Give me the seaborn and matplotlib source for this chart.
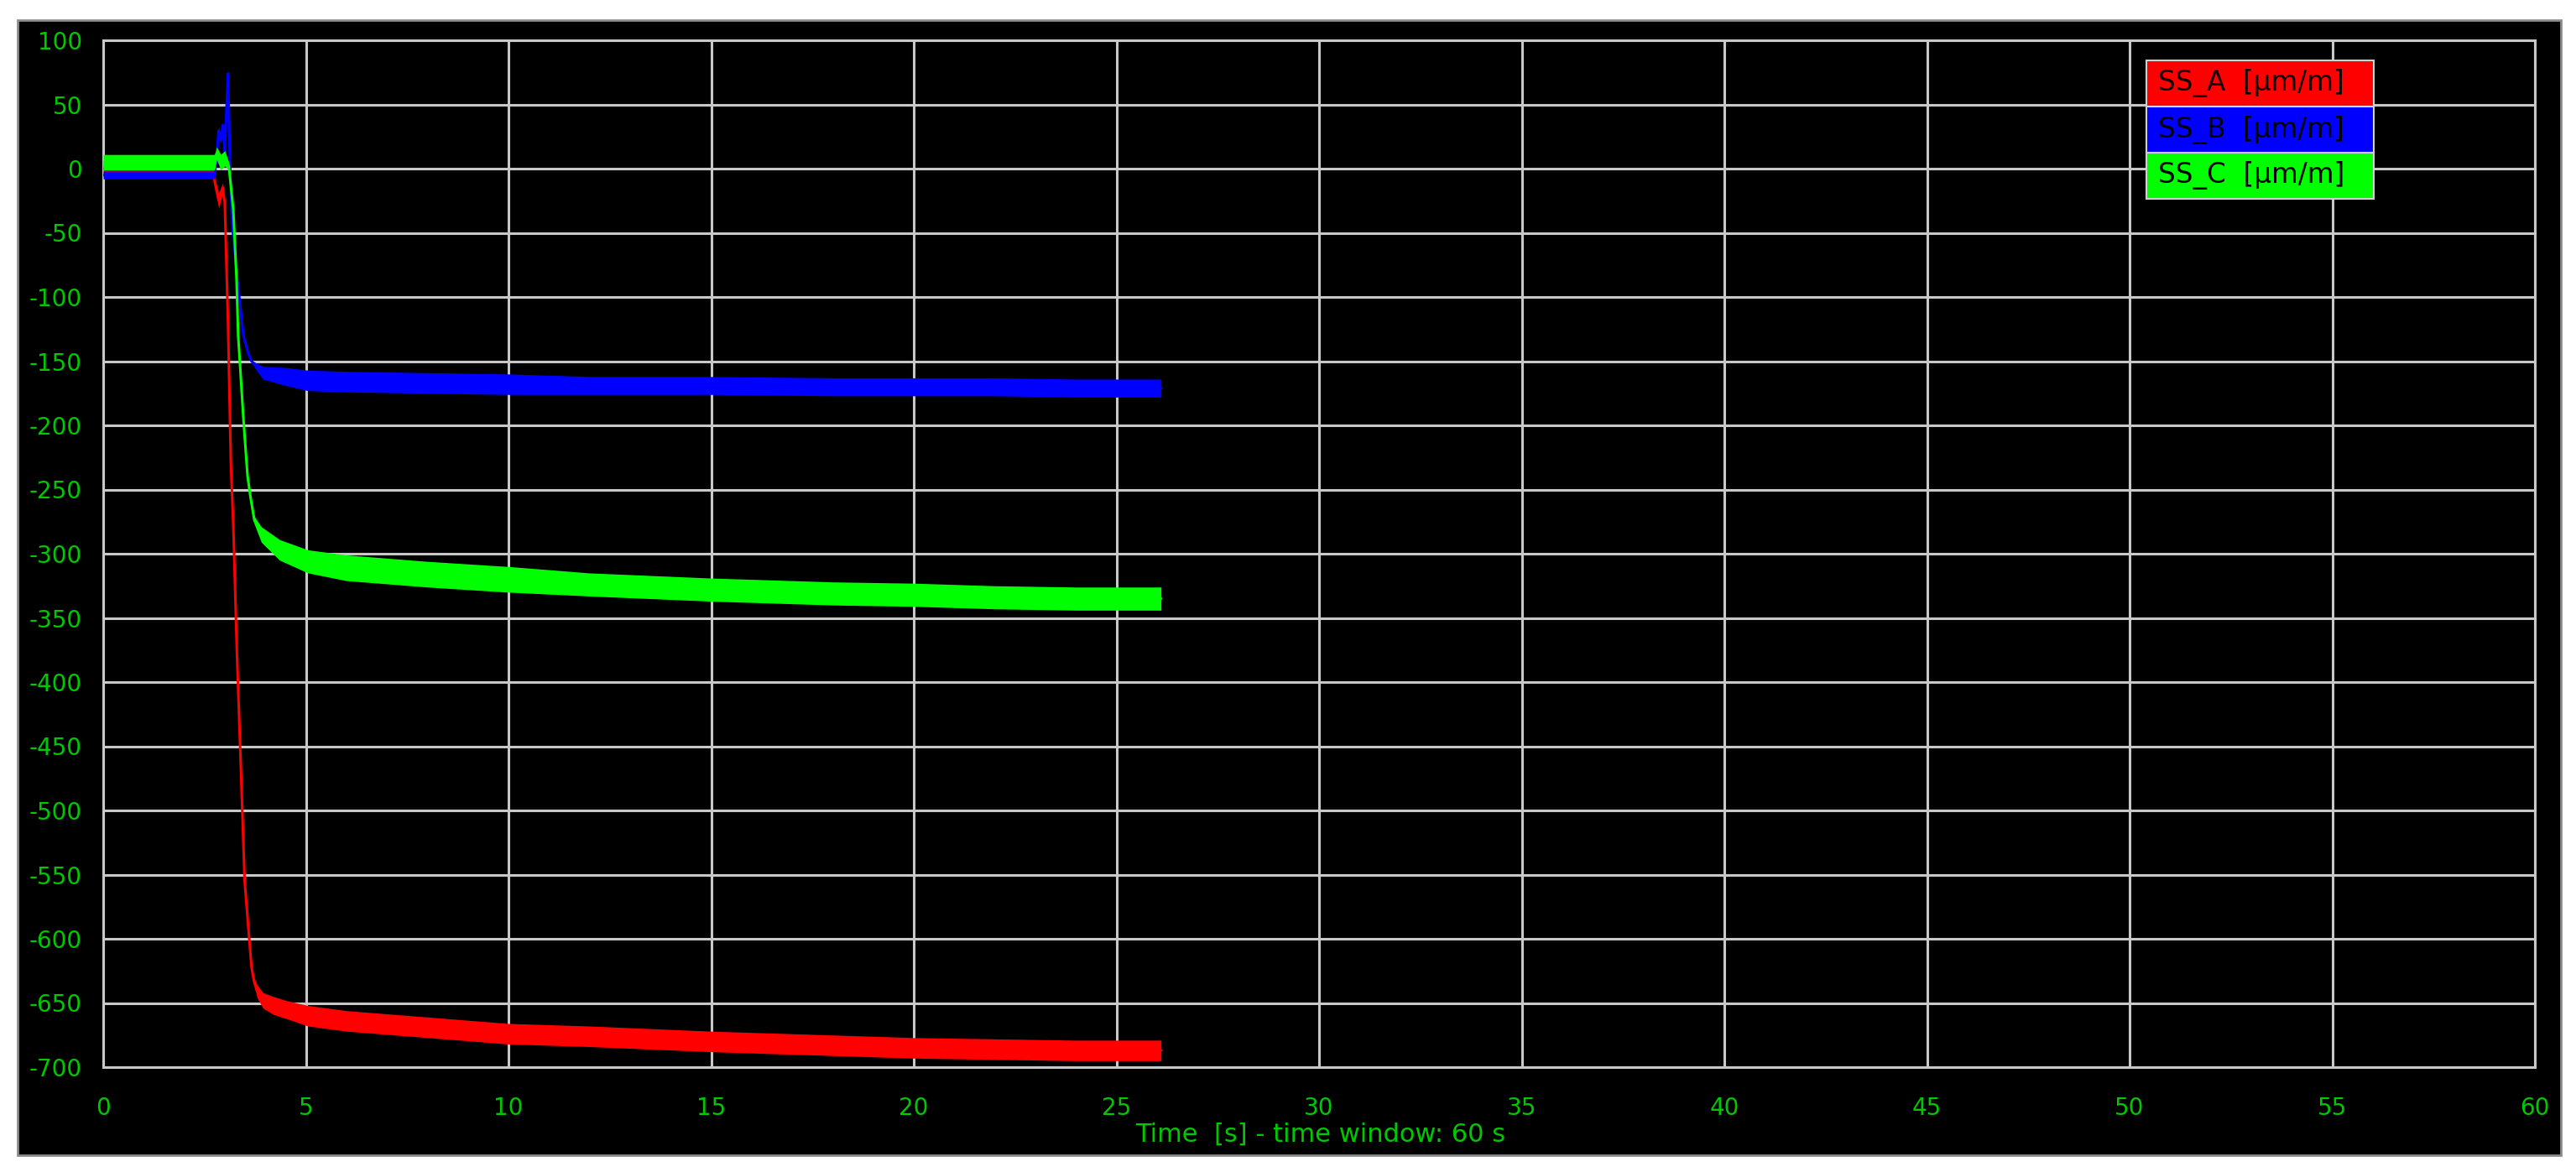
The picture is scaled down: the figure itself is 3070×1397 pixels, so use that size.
import numpy as np
import seaborn as sns
import matplotlib.pyplot as plt
from matplotlib.patches import Rectangle

# values (time in s, strain in um/m, band = half-width of noise)
t_a = [0, 2.7, 2.75, 2.85, 2.95, 3.0, 3.08, 3.15, 3.21, 3.3, 3.4, 3.49, 3.6, 3.66, 3.72, 3.8, 3.94,
       4.2, 4.5, 5.05, 6, 8, 10, 12, 15, 18, 20, 22, 24, 26.1]
ss_a = [0, 0, -10, -25, -15, -27, -121, -230, -278, -378, -470, -555, -599, -622, -633, -641, -648,
        -652, -655, -660, -664, -669, -674, -676, -680, -683, -685, -686, -687, -687]
band_a = [4, 4, 3, 6, 4, 1, 0, 0, 0, 0, 0, 0, 1, 2, 3, 5, 6, 7, 7, 8, 8, 8, 8, 8, 8, 8, 8, 8, 8, 8]

t_b = [0, 2.75, 2.8, 2.85, 2.9, 2.95, 3.0, 3.04, 3.08, 3.12, 3.18, 3.31, 3.46, 3.58, 3.66, 3.8, 3.94,
       4.5, 5.05, 6, 8, 10, 12, 15, 18, 20, 22, 24, 26.1]
ss_b = [-5, -5, 10, 30, 22, 34, 12, 45, 74, 15, -43, -86, -130, -144, -150, -155, -159, -162, -165,
        -166, -167, -168, -169, -169, -170, -170, -170, -171, -171]
band_b = [3, 3, 2, 3, 3, 2, 1, 0, 0, 0, 0, 0, 0, 0, 1, 3, 5, 7, 8, 8, 8, 8, 7, 7, 7, 7, 7, 7, 7]

t_c = [0, 2.75, 2.8, 2.9, 3.0, 3.1, 3.21, 3.29, 3.33, 3.46, 3.56, 3.63, 3.73, 3.9, 4.35, 5.05, 6, 8,
       10, 12, 15, 18, 20, 22, 24, 26.1]
ss_c = [5, 5, 12, 5, 8, 2, -32, -86, -130, -195, -239, -255, -274, -285, -297, -306, -311, -316,
        -320, -324, -328, -331, -332, -334, -335, -335]
band_c = [6, 6, 5, 6, 6, 3, 0, 0, 0, 0, 0, 1, 3, 6, 8, 9, 10, 10, 10, 9, 9, 9, 9, 9, 9, 9]

labels = ["SS_A  [µm/m]", "SS_B  [µm/m]", "SS_C  [µm/m]"]
colors = ["#ff0000", "#0000ff", "#00ff00"]
x_ticks = list(range(0, 61, 5))
y_ticks = list(range(-700, 101, 50))

sns.set_style("dark")
plt.rcParams['font.family'] = ['DejaVu Sans']
plt.rcParams['axes.unicode_minus'] = False

W, H = 3070, 1397
fig = plt.figure(figsize=(W / 100, H / 100), dpi=100, facecolor="white")

# black instrument panel behind the plot
fig.patches.append(Rectangle((21 / W, 1 - 1377 / H), (3052 - 21) / W, (1377 - 24) / H,
                             transform=fig.transFigure, facecolor="black",
                             edgecolor="#8c8c8c", linewidth=2, zorder=-10))

ax = fig.add_axes([123 / W, 1 - 1272 / H, (3021 - 123) / W, (1272 - 48) / H])
ax.set_facecolor("black")

grid_col = "#c8c8c8"
tick_green = "#00c800"

series = [(t_a, ss_a, band_a), (t_b, ss_b, band_b), (t_c, ss_c, band_c)]
for (t, y, b), col in zip(series, colors):
    t = np.array(t)
    y = np.array(y)
    b = np.array(b)
    ax.fill_between(t, y - b, y + b, color=col, linewidth=0, zorder=3)
    sns.lineplot(x=t, y=y, color=col, lw=2.2, ax=ax, estimator=None, legend=False, zorder=3)

ax.set_xlim(0, 60)
ax.set_ylim(-700, 100)
ax.set_xticks(x_ticks)
ax.set_xticks(np.arange(2.5, 60, 5), minor=True)
ax.set_yticks(y_ticks)
ax.set_xticklabels([str(v) for v in x_ticks])
ax.set_yticklabels([str(v) for v in y_ticks])
ax.grid(True, which="major", color=grid_col, linewidth=2.2, zorder=1)
ax.set_axisbelow(True)
for s in ax.spines.values():
    s.set_color(grid_col)
    s.set_linewidth(2.2)

ax.tick_params(axis="both", which="major", width=2.2, color=grid_col,
               labelcolor=tick_green, labelsize=20, direction="out")
ax.tick_params(axis="x", which="major", length=16, pad=9)
ax.tick_params(axis="y", which="major", length=14, pad=4)
ax.tick_params(axis="x", which="minor", length=8.5, width=2.2, color=grid_col, direction="out")
ax.set_xlabel("")
ax.set_ylabel("")

fig.text(1574 / W, 1 - 1352 / H, "Time  [s] - time window: 60 s", color=tick_green,
         fontsize=22, ha="center", va="center")

# legend drawn as coloured rows
lx0, lx1, ly0, row_h = 2558, 2829, 72, 55
for i, (lab, col) in enumerate(zip(labels, colors)):
    y_top = ly0 + i * row_h
    fig.patches.append(Rectangle((lx0 / W, 1 - (y_top + row_h) / H), (lx1 - lx0) / W, row_h / H,
                                 transform=fig.transFigure, facecolor=col,
                                 edgecolor="#d0d0d0", linewidth=1.5, zorder=5))
    fig.text(2572 / W, 1 - (y_top + row_h / 2) / H, lab, color="#140000" if i == 0 else "black",
             fontsize=23.5, ha="left", va="center", zorder=6)

fig.savefig("out.png", dpi=100, facecolor="white")
